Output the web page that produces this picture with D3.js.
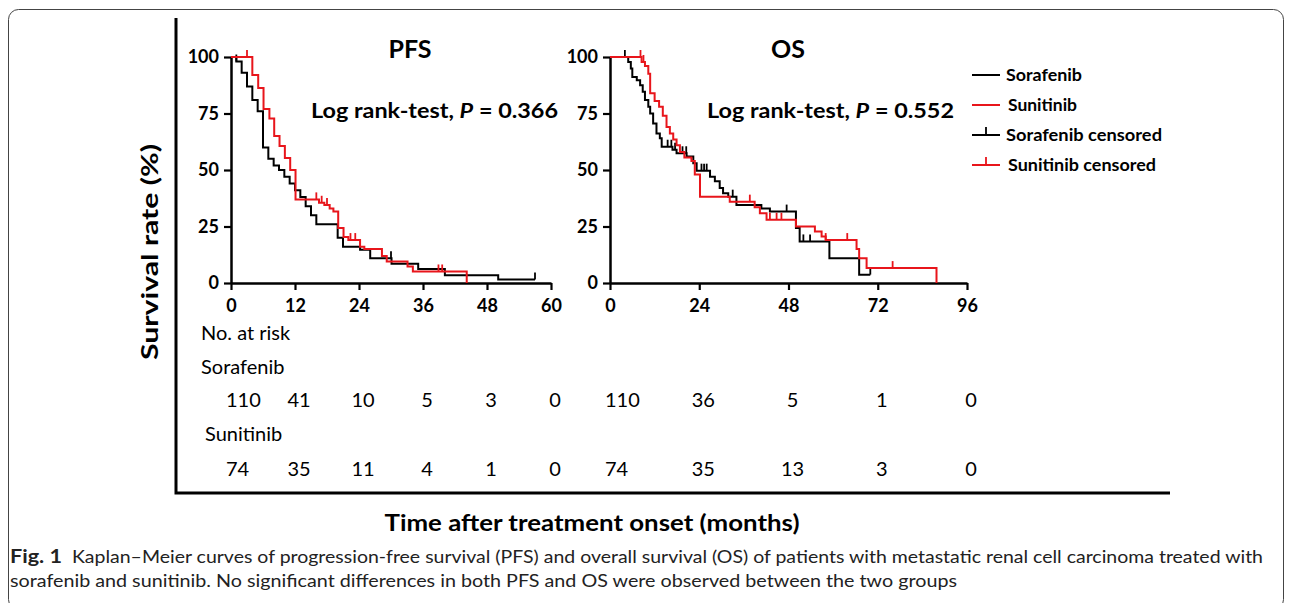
<!DOCTYPE html>
<html><head><meta charset="utf-8">
<script src="https://cdn.jsdelivr.net/npm/d3@7"></script>
<style>body{margin:0;background:#fff}svg{display:block;font-family:Lato,"Open Sans",sans-serif}</style>
</head><body><svg id="c" width="1290" height="603"></svg>
<script>
// ---------- data ----------
const pfsTicks = [0, 12, 24, 36, 48, 60];
const osTicks = [0, 24, 48, 72, 96];
const yTicks = [0, 25, 50, 75, 100];

// [month, survival %]
const pfsSorafenib = [[0,100],[1,98],[2,93],[3,87],[4,81],[5,76],[6,60],[7,55],[8,52],[9,50],[10,47],[11,44],[12,41],[13,38],[14,34],[15,30],[16,26],[20,20],[21,16],[24.2,14.7],[26.1,11],[30.1,8.5],[35.1,6.2],[40.1,3.4],[50.1,1.6],[57,1.6]];
const pfsSunitinib = [[0,100],[4,92],[5.1,86.3],[6.1,77],[7.2,72.8],[8.1,65],[9.1,60.6],[10.1,55.3],[11.1,50],[12.1,37],[16.5,35.5],[17.5,34.5],[18.5,33],[19.2,31.6],[20.1,24.3],[21.1,20.3],[22,19],[24.2,16],[25,15],[28.3,12],[29.2,9.5],[33.1,7.3],[34.1,5.1],[44.2,0]];
const pfsSorafenibCensor = [1, 30, 57];
const pfsSunitinibCensor = [3, 16, 17, 18, 22.4, 23.3, 38.9, 39.6];

const osSorafenib = [[0,100],[4.9,97.8],[5.6,94.9],[6.0,91.2],[7.2,89.7],[8.1,87.5],[8.8,84.6],[9.4,81],[10.3,78],[10.8,75],[11.6,70.6],[12.5,66.2],[13.4,64],[13.9,60.3],[16.8,59],[17.9,57.4],[20.6,56],[22.4,53],[23.3,49.7],[26.9,47],[28.2,45],[29.5,42],[30.4,39.7],[31.8,38.2],[34,34.5],[40.7,33],[43,31.6],[50,24.3],[51,18.4],[59,11],[67,3.7],[70,3.7]];
const osSunitinib = [[0,100],[8.5,97.8],[9.4,96],[10.3,92.6],[10.8,84],[12,80.5],[13.2,78],[14.2,74],[15.2,69],[16.1,66.2],[17,63.5],[17.9,61],[18.8,58],[20,55.5],[21.9,54],[22.8,48],[24.2,38.2],[32.2,36],[38.9,33.5],[40.3,30.9],[42.1,28],[50,25],[55.1,22.8],[56.9,20.6],[58,19],[66.3,15],[67,11],[69,6.6],[87.8,0]];
const osSorafenibCensor = [4, 15.5, 16.5, 17.5, 19.5, 20.5, 24.6, 25.3, 26, 33, 47.5, 52, 53.8, 70];
const osSunitinibCensor = [8.2, 9, 37.6, 43, 44.8, 46.1, 58, 63.8, 76];

const riskGroups = ["Sorafenib", "Sunitinib"];
const pfsRiskSorafenib = [110, 41, 10, 5, 3, 0];
const pfsRiskSunitinib = [74, 35, 11, 4, 1, 0];
const osRiskSorafenib = [110, 36, 5, 1, 0];
const osRiskSunitinib = [74, 35, 13, 3, 0];

const legendLabels = ["Sorafenib", "Sunitinib", "Sorafenib censored", "Sunitinib censored"];
const pValues = ["0.366", "0.552"];
const panelTitles = ["PFS", "OS"];

const RED = "#e8151b", BLACK = "#000";

// ---------- drawing ----------
const svg = d3.select("#c");

svg.append("rect").attr("x", 8.5).attr("y", 9.5).attr("width", 1275).attr("height", 600)
  .attr("rx", 10).attr("fill", "none").attr("stroke", "#444").attr("stroke-width", 1);

svg.append("path").attr("d", "M176,18 V493 H1170").attr("fill", "none")
  .attr("stroke", "#000").attr("stroke-width", 3);

svg.append("text").attr("transform", "translate(158,252) rotate(-90)")
  .attr("text-anchor", "middle").attr("font-size", 22).attr("font-weight", 700)
  .attr("textLength", 216).attr("lengthAdjust", "spacingAndGlyphs").text("Survival rate (%)");
svg.append("text").attr("x", 592).attr("y", 531).attr("text-anchor", "middle")
  .attr("font-size", 22).attr("font-weight", 700)
  .attr("textLength", 415).attr("lengthAdjust", "spacingAndGlyphs")
  .text("Time after treatment onset (months)");

const y = d3.scaleLinear().domain([0, 100]).range([283, 57]);

function valueAt(curve, t) {
  let v = curve[0][1];
  for (const [m, s] of curve) { if (m <= t) v = s; else break; }
  return v;
}

function panel(cfg) {
  const x = d3.scaleLinear().domain(cfg.domain).range(cfg.range);
  const g = svg.append("g");
  const ax = g.append("g").attr("transform", `translate(0,${y(0)})`)
    .call(d3.axisBottom(x).tickValues(cfg.ticks).tickSize(7).tickSizeOuter(0).tickPadding(6));
  const ay = g.append("g").attr("transform", `translate(${x(0)},0)`)
    .call(d3.axisLeft(y).tickValues(yTicks).tickSize(7).tickSizeOuter(0).tickPadding(5));
  [ax, ay].forEach(a => {
    a.select(".domain").attr("stroke-width", 2.5);
    a.selectAll(".tick line").attr("stroke-width", 2.2);
    a.selectAll("text").attr("font-size", 18).attr("font-weight", 700)
      .attr("font-family", "Lato, sans-serif").attr("fill", "#000");
  });
  ax.selectAll("text").attr("dy", "0.9em");

  const line = d3.line().x(d => x(d[0])).y(d => y(d[1])).curve(d3.curveStepAfter);
  const series = [
    {data: cfg.sor, cens: cfg.sorC, color: BLACK},
    {data: cfg.sun, cens: cfg.sunC, color: RED}
  ];
  series.forEach(s => {
    g.append("path").datum(s.data).attr("d", line).attr("fill", "none")
      .attr("stroke", s.color).attr("stroke-width", 2);
    g.selectAll(null).data(s.cens).enter().append("line")
      .attr("x1", d => x(d)).attr("x2", d => x(d))
      .attr("y1", d => y(valueAt(s.data, d))).attr("y2", d => y(valueAt(s.data, d)) - 7)
      .attr("stroke", s.color).attr("stroke-width", 1.8);
  });

  g.append("text").attr("x", cfg.titleX).attr("y", 58).attr("text-anchor", "middle")
    .attr("font-size", 25).attr("font-weight", 700).text(cfg.title);
  const lr = g.append("text").attr("x", cfg.lrX).attr("y", 118)
    .attr("font-size", 20).attr("font-weight", 700)
    .attr("textLength", 247).attr("lengthAdjust", "spacingAndGlyphs");
  lr.append("tspan").text("Log rank-test, ");
  lr.append("tspan").attr("font-style", "italic").text("P");
  lr.append("tspan").text(" = " + cfg.p);

  [[cfg.riskSor, 407], [cfg.riskSun, 476]].forEach(([row, yy]) => {
    g.selectAll(null).data(row).enter().append("text")
      .attr("x", (d, i) => i === 0 ? x(cfg.ticks[0]) - 5 : x(cfg.ticks[i]) + 4)
      .attr("y", yy).attr("text-anchor", (d, i) => i === 0 ? "start" : "middle")
      .attr("font-size", 20).text(d => d);
  });
}

panel({domain: [0, 60], range: [231, 551], ticks: pfsTicks, sor: pfsSorafenib, sun: pfsSunitinib,
  sorC: pfsSorafenibCensor, sunC: pfsSunitinibCensor, title: panelTitles[0], titleX: 410, lrX: 311,
  p: pValues[0], riskSor: pfsRiskSorafenib, riskSun: pfsRiskSunitinib});
panel({domain: [0, 96], range: [610, 967], ticks: osTicks, sor: osSorafenib, sun: osSunitinib,
  sorC: osSorafenibCensor, sunC: osSunitinibCensor, title: panelTitles[1], titleX: 788, lrX: 707,
  p: pValues[1], riskSor: osRiskSorafenib, riskSun: osRiskSunitinib});

svg.append("text").attr("x", 201).attr("y", 340).attr("font-size", 20).text("No. at risk");
svg.append("text").attr("x", 201).attr("y", 374).attr("font-size", 20).text(riskGroups[0]);
svg.append("text").attr("x", 205).attr("y", 441).attr("font-size", 20).text(riskGroups[1]);

const legendWidths = [76, 69, 156, 148];
const lg = svg.append("g");
legendLabels.forEach((lab, i) => {
  const yy = 75 + i * 30;
  const col = i % 2 === 0 ? BLACK : RED;
  lg.append("line").attr("x1", 972).attr("x2", 1000).attr("y1", yy).attr("y2", yy)
    .attr("stroke", col).attr("stroke-width", 2);
  if (i >= 2) lg.append("line").attr("x1", 986).attr("x2", 986).attr("y1", yy).attr("y2", yy - 8)
    .attr("stroke", col).attr("stroke-width", 1.8);
  lg.append("text").attr("x", i % 2 === 0 ? 1006 : 1008).attr("y", yy + 6)
    .attr("font-size", 17).attr("font-weight", 700)
    .attr("textLength", legendWidths[i]).attr("lengthAdjust", "spacingAndGlyphs").text(lab);
});

const cap1 = svg.append("text").attr("x", 10).attr("y", 563).attr("fill", "#222");
cap1.append("tspan").attr("font-weight", 700).attr("font-size", 18)
  .attr("textLength", 52).attr("lengthAdjust", "spacingAndGlyphs").text("Fig. 1");
cap1.append("tspan").attr("x", 72).attr("font-size", 16.5).attr("textLength", 1191).attr("lengthAdjust", "spacingAndGlyphs")
  .text("Kaplan\u2013Meier curves of progression-free survival (PFS) and overall survival (OS) of patients with metastatic renal cell carcinoma treated with");
svg.append("text").attr("x", 10).attr("y", 587).attr("font-size", 16.5).attr("fill", "#222")
  .attr("textLength", 947).attr("lengthAdjust", "spacingAndGlyphs")
  .text("sorafenib and sunitinib. No significant differences in both PFS and OS were observed between the two groups");
</script></body></html>
